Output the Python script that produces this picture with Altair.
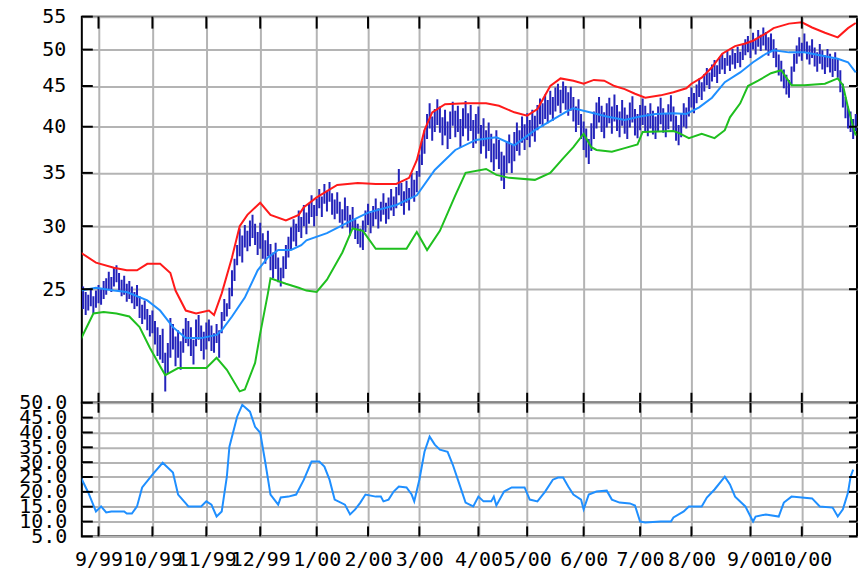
import altair as alt
import pandas as pd

# ---------------- data ----------------
month_idx = [7, 28, 49, 70, 92, 112, 132, 155, 174, 196, 218, 238, 261, 281]
month_lbl = ["9/99", "10/99", "11/99", "12/99", "1/00", "2/00", "3/00", "4/00",
             "5/00", "6/00", "7/00", "8/00", "9/00", "10/00"]

price_ticks = [25, 30, 35, 40, 45, 50, 55]
ind_ticks = [5, 10, 15, 20, 25, 30, 35, 40, 45, 50]

high = [
    26.0, 25.2, 24.8, 24.6, 25.0, 24.5, 24.9, 25.3, 25.0, 25.6,
    25.8, 26.3, 25.9, 26.6, 26.8, 26.2, 25.7, 26.0, 25.4, 25.6,
    25.2, 24.8, 25.3, 24.5, 23.9, 24.2, 23.6, 23.2, 23.5, 22.8,
    22.4, 21.9, 22.3, 20.8, 21.4, 23.0, 22.6, 21.8, 22.2, 21.5,
    22.3, 23.0, 22.8, 22.4, 21.6, 22.9, 23.2, 22.5, 22.1, 22.7,
    22.9, 22.5, 22.0, 22.6, 22.2, 23.4, 24.3, 24.0, 25.1, 26.4,
    27.3, 28.4, 29.8, 29.2, 30.1, 29.6, 30.5, 31.0, 30.2, 29.5,
    30.3, 29.4, 28.8, 29.6, 28.5, 27.8, 28.6, 27.4, 26.6, 27.5,
    28.4, 29.1, 29.9, 30.6, 30.2, 31.4, 30.8, 31.9, 31.2, 32.0,
    32.8, 31.9, 32.5, 33.4, 32.7, 33.9, 33.2, 34.1, 33.0, 32.4,
    33.1, 32.2, 31.5, 32.6, 31.8, 31.0, 31.7, 30.6, 30.2, 29.8,
    30.5, 31.4, 32.0, 31.2, 31.8, 32.5, 31.6, 32.2, 33.0, 32.1,
    32.6, 33.4, 32.7, 33.6, 35.4, 34.0, 33.2, 34.2, 33.5, 35.0,
    34.3, 35.2, 36.9, 38.4, 39.6, 41.5, 42.8, 41.2, 42.1, 43.3,
    42.4, 41.1, 42.0, 40.6, 41.8, 43.0, 41.9, 42.5, 40.9, 42.2,
    43.1, 41.6, 42.6, 40.8, 41.5, 42.4, 40.2, 41.0, 39.6, 40.5,
    39.2, 38.1, 39.6, 38.5, 37.2, 36.8, 38.3, 39.1, 38.0, 39.4,
    40.5, 39.6, 41.2, 40.3, 41.6, 40.8, 42.0, 41.3, 42.6, 43.4,
    42.8, 43.9, 43.2, 44.4, 43.6, 44.8, 45.3, 44.5, 45.6, 45.0,
    44.2, 44.9, 43.6, 42.4, 43.3, 41.5, 40.6, 39.8, 38.6, 40.4,
    41.8, 42.9, 43.6, 42.5, 41.7, 42.8, 43.5, 42.4, 43.9, 42.6,
    41.8, 43.2, 42.3, 41.4, 42.9, 43.7, 42.1, 41.5, 42.6, 43.4,
    42.5, 41.6, 42.8, 41.9, 41.2, 42.4, 43.5, 42.2, 41.5, 42.7,
    43.8, 42.4, 41.3, 40.2, 41.5, 42.8, 42.3, 43.6, 44.8, 44.1,
    45.2, 46.0, 45.5, 46.6, 47.4, 46.8, 47.9, 48.5, 47.8, 48.9,
    49.4, 48.8, 49.9, 49.2, 50.1, 49.5, 50.4, 49.7, 50.8, 51.5,
    52.0, 51.3, 52.5, 51.6, 52.9, 52.2, 53.3, 52.6, 51.8, 52.4,
    51.5, 50.2, 49.3, 48.4, 47.2, 46.5, 45.8, 47.6, 49.4, 50.6,
    51.8, 51.0, 52.4, 51.2, 50.6, 51.5, 50.3, 49.6, 50.8, 49.9,
    49.2, 50.1, 49.4, 48.7, 49.6, 48.8, 47.1, 45.3, 43.6, 42.4,
    41.8, 40.9, 41.5,
]
low = [
    23.4, 23.6, 23.2, 23.5, 23.8, 23.3, 23.7, 24.0, 23.9, 24.3,
    24.6, 25.0, 24.8, 25.2, 25.5, 24.9, 24.5, 24.6, 24.1, 24.3,
    24.0, 23.6, 23.8, 23.0, 22.6, 22.9, 22.2, 21.8, 22.0, 21.3,
    20.6, 20.4, 20.2, 18.6, 19.6, 20.5, 21.0, 20.0, 20.5, 19.8,
    20.8, 21.4, 21.2, 20.6, 20.1, 21.2, 21.6, 20.9, 20.4, 21.0,
    21.5, 20.9, 20.8, 21.4, 20.5, 22.0, 22.8, 23.1, 23.6, 24.5,
    25.6, 26.8, 27.5, 27.0, 28.2, 27.9, 28.3, 29.0, 28.4, 27.6,
    28.1, 27.3, 26.9, 27.5, 26.4, 25.8, 26.5, 25.5, 25.2, 25.8,
    26.5, 27.4, 28.0, 28.7, 28.3, 29.5, 29.0, 30.0, 29.3, 30.2,
    30.8, 30.0, 30.9, 31.6, 30.8, 32.0, 31.3, 32.2, 31.0, 30.6,
    31.1, 30.3, 29.8, 30.5, 29.9, 29.2, 29.8, 28.9, 28.5, 28.2,
    28.0, 29.5, 30.1, 29.4, 30.0, 30.6, 29.8, 30.4, 31.0, 30.2,
    30.6, 31.4, 30.9, 31.6, 32.8, 31.8, 31.0, 32.1, 31.4, 32.6,
    32.2, 33.1, 34.6, 35.8, 37.0, 38.6, 39.8, 38.4, 39.4, 40.2,
    39.3, 37.9, 39.0, 37.5, 38.6, 40.1, 38.8, 39.4, 37.6, 38.9,
    39.8, 38.4, 39.5, 37.6, 38.1, 39.2, 37.0, 37.8, 36.5, 37.3,
    36.1, 35.2, 36.4, 35.4, 34.2, 33.4, 35.0, 36.0, 35.0, 36.2,
    37.3, 36.8, 38.2, 37.4, 38.5, 37.7, 38.9, 38.3, 39.6, 40.3,
    40.0, 40.9, 40.4, 41.4, 40.7, 41.8, 42.5, 41.6, 42.8, 42.0,
    41.3, 41.9, 40.6, 39.4, 40.2, 38.6, 37.4, 36.6, 35.9, 37.3,
    38.6, 39.8, 40.5, 39.4, 38.7, 39.9, 40.4, 39.2, 40.6, 39.5,
    38.8, 40.1, 39.2, 38.6, 39.9, 40.5, 39.0, 38.7, 39.6, 40.2,
    39.5, 38.9, 39.8, 39.1, 38.6, 39.4, 40.3, 39.3, 38.8, 39.7,
    40.6, 39.5, 38.4, 37.9, 38.8, 40.0, 39.8, 41.2, 42.3, 41.6,
    42.8, 43.6, 43.2, 44.3, 45.1, 44.6, 45.6, 46.2, 45.4, 46.6,
    47.2, 46.6, 47.7, 47.0, 47.9, 47.3, 48.1, 47.5, 48.5, 49.2,
    49.6, 48.8, 50.0, 49.3, 50.4, 49.8, 50.6, 49.9, 49.1, 49.7,
    48.8, 47.5, 46.4, 45.6, 44.7, 43.9, 43.5, 45.1, 46.9, 48.0,
    49.0, 48.4, 49.6, 48.6, 47.9, 48.8, 47.6, 46.9, 48.0, 47.2,
    46.6, 47.5, 46.8, 46.2, 47.0, 46.1, 44.2, 42.3, 41.0, 39.8,
    39.4, 38.6, 39.5,
]

upper_x = [0, 6, 13, 18, 22, 26, 31, 35, 37, 41, 45, 50, 52, 55, 59, 62, 65, 70, 74, 80,
           85, 87, 92, 100, 108, 115, 123, 128, 131, 134, 137, 142, 150, 158, 163, 169,
           174, 178, 183, 187, 192, 196, 200, 204, 208, 212, 216, 220, 226, 231, 236,
           238, 242, 246, 250, 255, 259, 262, 267, 270, 276, 281, 285, 290, 295, 299, 302]
upper_v = [27.8, 27.0, 26.6, 26.4, 26.4, 26.9, 26.9, 26.2, 24.9, 23.5, 23.3, 23.5, 23.2,
           24.7, 27.4, 30.0, 31.0, 32.1, 31.0, 30.5, 31.0, 31.7, 32.6, 33.8, 34.0, 33.9,
           33.9, 34.5, 36.3, 39.6, 41.7, 42.7, 42.8, 42.8, 42.5, 41.7, 41.3, 42.1, 45.0,
           46.0, 45.7, 45.3, 45.8, 45.7, 45.0, 44.6, 44.0, 43.5, 43.8, 44.2, 44.7, 45.3,
           46.1, 47.5, 49.4, 50.5, 50.9, 51.3, 52.4, 53.2, 53.9, 54.1, 53.3, 52.5, 51.8,
           53.2, 54.0]

lower_x = [0, 5, 9, 14, 19, 23, 27, 31, 33, 38, 43, 49, 53, 57, 62, 64, 68, 70, 73, 74,
           80, 85, 88, 92, 96, 102, 106, 110, 115, 127, 131, 135, 140, 146, 150, 158, 162,
           167, 177, 183, 188, 192, 196, 199, 201, 207, 212, 217, 219, 231, 233, 237, 242,
           247, 251, 253, 257, 260, 264, 269, 273, 277, 282, 290, 295, 297, 299, 301, 302]
lower_v = [21.6, 23.3, 23.4, 23.3, 23.1, 22.4, 21.1, 20.0, 19.5, 19.9, 19.9, 19.9, 20.5,
           19.8, 18.6, 18.7, 20.2, 22.0, 24.7, 25.8, 25.4, 25.1, 24.9, 24.8, 25.7, 27.8,
           29.8, 29.6, 28.1, 28.1, 29.5, 28.0, 29.6, 32.8, 35.0, 35.4, 34.8, 34.5, 34.3,
           35.0, 36.5, 37.7, 39.2, 37.7, 37.4, 37.2, 37.6, 38.0, 39.4, 39.5, 39.3, 38.7,
           39.2, 38.7, 39.6, 41.1, 42.8, 45.0, 45.7, 46.7, 47.1, 45.1, 45.1, 45.3, 46.0,
           45.1, 42.3, 40.0, 39.0]

mid_x = [0, 6, 13, 18, 26, 31, 36, 41, 47, 53, 55, 59, 64, 69, 73, 77, 82, 86, 88, 96,
         104, 112, 123, 131, 138, 146, 154, 162, 169, 177, 185, 190, 192, 200, 205, 212,
         218, 224, 231, 236, 241, 246, 251, 257, 262, 267, 270, 276, 282, 288, 295, 299, 302]
mid_v = [24.9, 25.1, 24.9, 24.8, 24.2, 23.5, 22.4, 21.7, 21.7, 21.9, 22.2, 23.1, 24.4,
         26.4, 27.4, 28.0, 28.0, 28.4, 28.8, 29.4, 30.3, 31.2, 31.9, 32.8, 35.3, 37.4,
         38.5, 38.8, 37.9, 39.6, 41.0, 41.9, 42.2, 41.6, 41.2, 40.8, 41.2, 41.5, 41.6,
         41.5, 42.3, 43.5, 45.5, 46.8, 48.2, 49.4, 49.9, 49.6, 49.6, 49.2, 48.7, 48.2, 46.8]

ind_x = [0, 3, 6, 8, 10, 12, 17, 18, 20, 22, 24, 28, 32, 36, 38, 41, 42, 47, 49, 51, 53,
         55, 57, 58, 61, 63, 66, 68, 70, 72, 74, 77, 78, 81, 84, 87, 90, 93, 95, 97, 99,
         103, 105, 107, 109, 111, 115, 117, 118, 120, 122, 124, 127, 129, 130, 132, 134,
         136, 138, 140, 143, 145, 147, 150, 153, 155, 157, 160, 161, 162, 165, 168, 173,
         175, 178, 181, 184, 186, 188, 190, 192, 195, 196, 198, 201, 205, 207, 210, 214,
         216, 218, 220, 226, 230, 231, 235, 237, 242, 244, 247, 251, 253, 255, 259, 262,
         263, 267, 272, 274, 277, 285, 288, 293, 295, 297, 299, 300, 301]
ind_v = [25.1, 19.8, 13.4, 15.1, 13.1, 13.4, 13.4, 12.7, 12.7, 15.1, 21.5, 25.8, 29.8,
         26.5, 19.1, 16.1, 15.1, 15.1, 16.8, 15.7, 11.7, 13.4, 25.1, 35.2, 45.3, 49.3,
         47.0, 41.9, 39.9, 29.8, 19.1, 15.7, 18.1, 18.4, 19.1, 24.1, 30.2, 30.2, 28.5,
         24.1, 17.4, 15.7, 12.4, 14.1, 16.4, 19.1, 18.4, 18.4, 16.8, 17.4, 20.1, 21.8,
         21.5, 19.1, 16.8, 24.1, 33.5, 38.6, 35.9, 34.2, 33.5, 29.2, 24.1, 16.4, 15.1,
         18.4, 16.8, 16.8, 18.4, 15.4, 20.1, 21.5, 21.5, 17.4, 16.8, 20.1, 24.1, 24.8,
         24.8, 21.8, 19.1, 17.4, 14.1, 19.1, 20.1, 20.4, 17.4, 16.4, 16.1, 15.4, 10.0,
         9.7, 10.0, 10.0, 11.4, 13.4, 15.1, 15.1, 18.1, 20.8, 25.1, 22.5, 18.4, 15.1,
         10.0, 11.7, 12.4, 11.7, 16.4, 18.4, 17.8, 15.1, 14.7, 11.7, 14.1, 19.8, 25.1, 27.5]

# ---------------- frames ----------------
bars = pd.DataFrame({"i": list(range(len(high))), "hi": high, "lo": low})
upper = pd.DataFrame({"i": upper_x, "v": upper_v})
lower = pd.DataFrame({"i": lower_x, "v": lower_v})
mid = pd.DataFrame({"i": mid_x, "v": mid_v})
ind = pd.DataFrame({"i": ind_x, "v": ind_v})
months = pd.DataFrame({"i": month_idx})
pticks = pd.DataFrame({"v": price_ticks})
iticks = pd.DataFrame({"v": ind_ticks})

W, H1, H2 = 777, 387, 134
FONT = "DejaVu Sans Mono"
FS = 20
GRID = "#b4b4b4"
TICKC = "#000000"

xs = alt.Scale(domain=[0.5, 302.5], nice=False, zero=False)
ys = alt.Scale(type="log", domain=[18, 55], nice=False)
js = alt.Scale(domain=[5, 50], nice=False, zero=False)

lbl_expr = ""
for k, t in zip(month_idx, month_lbl):
    lbl_expr += f"datum.value == {k} ? '{t}' : "
lbl_expr += "''"

XT = alt.Axis(values=month_idx, labels=False, ticks=False, domain=False,
              grid=True, gridColor=GRID, gridWidth=2, title=None)
XB = alt.Axis(values=month_idx, labelExpr=lbl_expr, ticks=False, domain=False,
              grid=True, gridColor=GRID, gridWidth=2, title=None,
              labelFont=FONT, labelFontSize=FS, labelColor="black",
              labelPadding=13, labelOverlap=False, labelFlush=False,
              labelBaseline="top")
YT = alt.Axis(values=price_ticks, ticks=False, domain=False,
              grid=True, gridColor=GRID, gridWidth=2, title=None,
              labelFont=FONT, labelFontSize=FS, labelColor="black",
              labelPadding=16, labelOverlap=False, labelFlush=False,
              format="d")
YB = alt.Axis(values=ind_ticks, ticks=False, domain=False,
              grid=True, gridColor=GRID, gridWidth=2, title=None,
              labelFont=FONT, labelFontSize=FS, labelColor="black",
              labelPadding=15, labelOverlap=False, labelFlush=False,
              format=".1f")

# ---------------- top panel ----------------
base_top = alt.Chart(bars).mark_rule(color="#2323bb", strokeWidth=2, clip=True).encode(
    x=alt.X("i:Q", scale=xs, axis=XT),
    y=alt.Y("lo:Q", scale=ys, axis=YT),
    y2="hi:Q",
)
up_line = alt.Chart(upper).mark_line(color="#ff1a1a", strokeWidth=2, clip=True).encode(
    x=alt.X("i:Q", scale=xs, axis=XT), y=alt.Y("v:Q", scale=ys, axis=YT))
lo_line = alt.Chart(lower).mark_line(color="#1fbf1f", strokeWidth=2, clip=True).encode(
    x=alt.X("i:Q", scale=xs, axis=XT), y=alt.Y("v:Q", scale=ys, axis=YT))
md_line = alt.Chart(mid).mark_line(color="#1f8fff", strokeWidth=2, clip=True).encode(
    x=alt.X("i:Q", scale=xs, axis=XT), y=alt.Y("v:Q", scale=ys, axis=YT))

t_left = alt.Chart(pticks).mark_rule(color=TICKC, strokeWidth=2).encode(
    y=alt.Y("v:Q", scale=ys, axis=YT), x=alt.value(0), x2=alt.value(11))
t_right = alt.Chart(pticks).mark_rule(color=TICKC, strokeWidth=2).encode(
    y=alt.Y("v:Q", scale=ys, axis=YT), x=alt.value(W - 8), x2=alt.value(W))
t_topedge = alt.Chart(months).mark_rule(color=TICKC, strokeWidth=2).encode(
    x=alt.X("i:Q", scale=xs, axis=XT), y=alt.value(0), y2=alt.value(12))
t_botedge = alt.Chart(months).mark_rule(color=TICKC, strokeWidth=2).encode(
    x=alt.X("i:Q", scale=xs, axis=XT), y=alt.value(H1 - 10), y2=alt.value(H1))

top = alt.layer(base_top, up_line, lo_line, md_line, t_left, t_right, t_topedge,
                t_botedge).properties(width=W, height=H1)

# ---------------- bottom panel ----------------
ind_line = alt.Chart(ind).mark_line(color="#1f8fff", strokeWidth=2, clip=True).encode(
    x=alt.X("i:Q", scale=xs, axis=XB),
    y=alt.Y("v:Q", scale=js, axis=YB),
)
b_left = alt.Chart(iticks).mark_rule(color=TICKC, strokeWidth=2).encode(
    y=alt.Y("v:Q", scale=js, axis=YB), x=alt.value(0), x2=alt.value(11))
b_right = alt.Chart(iticks).mark_rule(color=TICKC, strokeWidth=2).encode(
    y=alt.Y("v:Q", scale=js, axis=YB), x=alt.value(W - 8), x2=alt.value(W))
b_topedge = alt.Chart(months).mark_rule(color=TICKC, strokeWidth=2).encode(
    x=alt.X("i:Q", scale=xs, axis=XB), y=alt.value(0), y2=alt.value(10))
b_botedge = alt.Chart(months).mark_rule(color=TICKC, strokeWidth=2).encode(
    x=alt.X("i:Q", scale=xs, axis=XB), y=alt.value(H2 - 10), y2=alt.value(H2))

bottom = alt.layer(ind_line, b_left, b_right, b_topedge, b_botedge).properties(
    width=W, height=H2)

chart = alt.vconcat(top, bottom, spacing=0, bounds="flush").properties(
    padding={"left": 9, "top": -3, "right": 0, "bottom": 4},
    background="white",
).configure_view(stroke="black", strokeWidth=2).configure_concat(spacing=0)

chart.save("out.html", embed_options={"renderer": "svg", "actions": False})
